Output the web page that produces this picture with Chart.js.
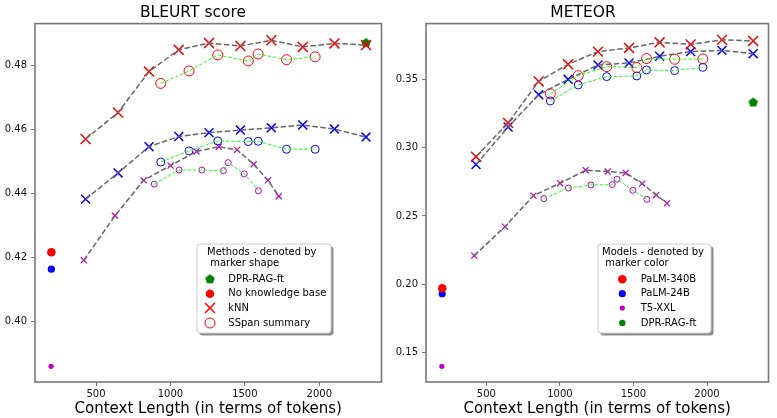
<!DOCTYPE html>
<html>
<head>
<meta charset="utf-8">
<title>BLEURT and METEOR vs context length</title>
<script src="https://cdn.jsdelivr.net/npm/chart.js@4.4.0/dist/chart.umd.min.js"></script>
<style>
  body { margin: 0; background: #fff; }
  #wrap { position: relative; width: 777px; height: 418px; }
  canvas { position: absolute; top: 0; }
</style>
</head>
<body>
<div id="wrap">
  <canvas id="bleurt" width="390" height="418" style="left:0"></canvas>
  <canvas id="meteor" width="387" height="418" style="left:390px"></canvas>
</div>
<script>
// context lengths (tokens)
var knnTokens = [430, 648, 856, 1056, 1259, 1470, 1678, 1889, 2102, 2314];
var sspanTokens = [935, 1125, 1318, 1523, 1589, 1780, 1972];
var t5KnnTokens = [418, 627, 820, 1001, 1175, 1325, 1448, 1559, 1655, 1728];
var t5SspanTokens = [891, 1058, 1211, 1356, 1388, 1496, 1591];
var noKbTokens = [200, 200, 198];
var dprTokens = 2314;

// BLEURT
var bleurt340Knn = [0.4570, 0.4653, 0.4781, 0.4849, 0.4870, 0.4861, 0.4879, 0.4858, 0.4869, 0.4864];
var bleurt340Sspan = [0.4744, 0.4783, 0.4833, 0.4814, 0.4836, 0.4818, 0.4827];
var bleurt24Knn = [0.4382, 0.4464, 0.4546, 0.4578, 0.4590, 0.4598, 0.4605, 0.4614, 0.4601, 0.4576];
var bleurt24Sspan = [0.4498, 0.4533, 0.4564, 0.4562, 0.4563, 0.4538, 0.4538];
var bleurtT5Knn = [0.4191, 0.4330, 0.4441, 0.4487, 0.4531, 0.4546, 0.4536, 0.4491, 0.4441, 0.4391];
var bleurtT5Sspan = [0.4429, 0.4473, 0.4473, 0.4471, 0.4496, 0.4461, 0.4408];
var bleurtNoKb = [0.4216, 0.4163, 0.3859];
var bleurtDpr = 0.4870;

// METEOR
var meteor340Knn = [0.2934, 0.3181, 0.3485, 0.3610, 0.3703, 0.3730, 0.3771, 0.3756, 0.3789, 0.3781];
var meteor340Sspan = [0.3395, 0.3527, 0.3593, 0.3586, 0.3652, 0.3647, 0.3649];
var meteor24Knn = [0.2877, 0.3151, 0.3388, 0.3500, 0.3605, 0.3620, 0.3669, 0.3703, 0.3712, 0.3688];
var meteor24Sspan = [0.3342, 0.3459, 0.3520, 0.3525, 0.3569, 0.3564, 0.3588];
var meteorT5Knn = [0.2210, 0.2422, 0.2649, 0.2740, 0.2835, 0.2825, 0.2815, 0.2737, 0.2654, 0.2593];
var meteorT5Sspan = [0.2627, 0.2705, 0.2727, 0.2730, 0.2769, 0.2688, 0.2622];
var meteorNoKb = [0.1971, 0.1931, 0.1400];
var meteorDpr = 0.3331;

// ticks
var xTicks = [500, 1000, 1500, 2000];
var bleurtTicks = [0.40, 0.42, 0.44, 0.46, 0.48];
var meteorTicks = [0.15, 0.20, 0.25, 0.30, 0.35];

// legend labels
var methodsTitle = ['Methods - denoted by', ' marker shape'];
var methodLabels = ['DPR-RAG-ft', 'No knowledge base', 'kNN', 'SSpan summary'];
var modelsTitle = ['Models - denoted by', ' marker color'];
var modelLabels = ['PaLM-340B', 'PaLM-24B', 'T5-XXL', 'DPR-RAG-ft'];

var FONT = 'DejaVu Sans';
var RED = '#ff0000', BLUE = '#0000ff', MAG = '#bf00bf', GREEN = '#008000';
var AXIS = '#777';
var models = [
  { color: RED, knnR: 7, sspanR: 5, dotR: 4.3, bw: 1.5 },
  { color: BLUE, knnR: 6.3, sspanR: 4, dotR: 3.6, bw: 1.5 },
  { color: MAG, knnR: 4.3, sspanR: 3, dotR: 2.6, bw: 1.2 }
];

function pts(xs, ys) {
  return xs.map(function (x, i) { return { x: x, y: ys[i] }; });
}

function pentagon(color, r) {
  var c = document.createElement('canvas');
  c.width = c.height = Math.ceil(r * 2 + 2);
  var g = c.getContext('2d');
  g.fillStyle = color;
  g.beginPath();
  for (var i = 0; i < 5; i++) {
    var a = -Math.PI / 2 + i * 2 * Math.PI / 5;
    var px = c.width / 2 + r * Math.cos(a), py = c.height / 2 + r * Math.sin(a);
    if (i) g.lineTo(px, py); else g.moveTo(px, py);
  }
  g.closePath();
  g.fill();
  return c;
}
var penta = pentagon(GREEN, 5);

var framePlugin = {
  id: 'frame',
  afterDraw: function (chart) {
    var a = chart.chartArea, c = chart.ctx;
    c.save();
    c.strokeStyle = AXIS;
    c.lineWidth = 1.6;
    c.strokeRect(a.left, a.top, a.right - a.left, a.bottom - a.top);
    c.restore();
  }
};

var boxLegend = {
  id: 'boxLegend',
  afterDraw: function (chart, args, o) {
    if (!o.items) return;
    var c = chart.ctx;
    c.save();
    c.fillStyle = 'rgba(0,0,0,0.45)';
    c.beginPath(); c.roundRect(o.x + 2.5, o.y + 2.5, o.w, o.h, 3); c.fill();
    c.fillStyle = '#fff';
    c.strokeStyle = '#cccccc';
    c.lineWidth = 1;
    c.beginPath(); c.roundRect(o.x, o.y, o.w, o.h, 3); c.fill(); c.stroke();
    c.font = '10px "' + FONT + '"';
    c.textBaseline = 'middle';
    c.fillStyle = '#000';
    o.title.forEach(function (t, i) { c.fillText(t, o.titleX[i], o.titleY[i]); });
    o.items.forEach(function (it, i) {
      var y = o.rowY[i];
      c.fillStyle = it.fill;
      c.strokeStyle = it.stroke;
      c.lineWidth = it.bw;
      Chart.helpers.drawPoint(c, { pointStyle: it.style, radius: it.r, rotation: 0, borderWidth: it.bw }, o.markerX, y);
      c.fillStyle = '#000';
      c.fillText(it.label, o.textX, y);
    });
    c.restore();
  }
};

function buildDatasets(s) {
  var sets = [];
  models.forEach(function (m, i) {
    var kx = i === 2 ? t5KnnTokens : knnTokens;
    var sx = i === 2 ? t5SspanTokens : sspanTokens;
    sets.push({ data: pts(kx, s.knn[i]), showLine: true, borderColor: '#666', borderWidth: 1.5,
      borderDash: [5.5, 2.5], pointRadius: 0, order: 1 });
    sets.push({ data: pts(sx, s.sspan[i]), showLine: true, borderColor: '#22ff22', borderWidth: 1,
      borderDash: [3.5, 1.8], pointRadius: 0, order: 1 });
    sets.push({ data: pts(kx, s.knn[i]), pointStyle: 'crossRot', pointRadius: m.knnR,
      borderColor: m.color, backgroundColor: m.color, borderWidth: m.bw, order: 5 });
    sets.push({ data: pts(sx, s.sspan[i]), pointStyle: 'circle', pointRadius: m.sspanR,
      borderColor: m.color, backgroundColor: 'rgba(0,0,0,0)', borderWidth: 1, order: 5 });
    sets.push({ data: [{ x: noKbTokens[i], y: s.noKb[i] }], pointStyle: 'circle', pointRadius: m.dotR,
      borderColor: m.color, backgroundColor: m.color, borderWidth: 0, order: 5 });
  });
  sets.push({ data: [{ x: dprTokens, y: s.dpr }], pointStyle: penta, pointRadius: 5, order: 10 });
  return sets;
}

function makeChart(id, title, s, yMin, yMax, yTicks, legend, yWidth, rightPad) {
  var tickFont = { family: FONT, size: 10 };
  return new Chart(document.getElementById(id), {
    type: 'scatter',
    data: { datasets: buildDatasets(s) },
    plugins: [framePlugin, boxLegend],
    options: {
      responsive: false,
      animation: false,
      events: [],
      layout: { padding: { left: 0, right: rightPad, top: 0, bottom: 0 } },
      plugins: {
        legend: { display: false },
        tooltip: { enabled: false },
        title: { display: true, text: title, color: '#000',
          font: { family: FONT, size: 15.5, weight: 'normal' }, padding: { top: 4, bottom: 1 } },
        boxLegend: legend
      },
      scales: {
        x: {
          type: 'linear', min: 90, max: 2418,
          afterBuildTicks: function (sc) { sc.ticks = xTicks.map(function (v) { return { value: v }; }); },
          afterFit: function (sc) { sc.height = 36; },
          ticks: { font: tickFont, color: '#111', padding: 2, maxRotation: 0,
            callback: function (v) { return String(v); } },
          grid: { drawOnChartArea: false, tickLength: 4, color: AXIS },
          border: { display: false },
          title: { display: true, text: 'Context Length (in terms of tokens)', color: '#000',
            font: { family: FONT, size: 15 }, padding: 0 }
        },
        y: {
          min: yMin, max: yMax,
          afterBuildTicks: function (sc) { sc.ticks = yTicks.map(function (v) { return { value: v }; }); },
          afterFit: function (sc) { sc.width = yWidth; },
          ticks: { font: tickFont, color: '#111', padding: 4,
            callback: function (v) { return v.toFixed(2); } },
          grid: { drawOnChartArea: false, tickLength: 4, color: AXIS },
          border: { display: false }
        }
      }
    }
  });
}

function legendItems(kind) {
  if (kind === 'methods') {
    return [
      { label: methodLabels[0], style: penta, r: 5, fill: GREEN, stroke: GREEN, bw: 0 },
      { label: methodLabels[1], style: 'circle', r: 4.3, fill: RED, stroke: RED, bw: 0 },
      { label: methodLabels[2], style: 'crossRot', r: 7, fill: RED, stroke: RED, bw: 1.5 },
      { label: methodLabels[3], style: 'circle', r: 5, fill: '#fff', stroke: RED, bw: 1 }
    ];
  }
  return [
    { label: modelLabels[0], style: 'circle', r: 4.3, fill: RED, stroke: RED, bw: 0 },
    { label: modelLabels[1], style: 'circle', r: 3.6, fill: BLUE, stroke: BLUE, bw: 0 },
    { label: modelLabels[2], style: 'circle', r: 2.6, fill: MAG, stroke: MAG, bw: 0 },
    { label: modelLabels[3], style: 'circle', r: 3.2, fill: GREEN, stroke: GREEN, bw: 0 }
  ];
}

makeChart('bleurt', 'BLEURT score', {
  knn: [bleurt340Knn, bleurt24Knn, bleurtT5Knn],
  sspan: [bleurt340Sspan, bleurt24Sspan, bleurtT5Sspan],
  noKb: bleurtNoKb, dpr: bleurtDpr
}, 0.381, 0.4931, bleurtTicks, {
  x: 197, y: 244, w: 134, h: 89,
  title: methodsTitle, titleX: [207, 207], titleY: [252.5, 263.5],
  items: legendItems('methods'), rowY: [279.3, 293.7, 308, 323], markerX: 210, textX: 228.3
}, 35, 4);

makeChart('meteor', 'METEOR', {
  knn: [meteor340Knn, meteor24Knn, meteorT5Knn],
  sspan: [meteor340Sspan, meteor24Sspan, meteorT5Sspan],
  noKb: meteorNoKb, dpr: meteorDpr
}, 0.1285, 0.3908, meteorTicks, {
  x: 208, y: 244, w: 113, h: 89,
  title: modelsTitle, titleX: [212, 212], titleY: [252.5, 263.5],
  items: legendItems('models'), rowY: [279.3, 293.7, 308, 323], markerX: 232.3, textX: 250.7
}, 36, 1);
</script>
</body>
</html>
